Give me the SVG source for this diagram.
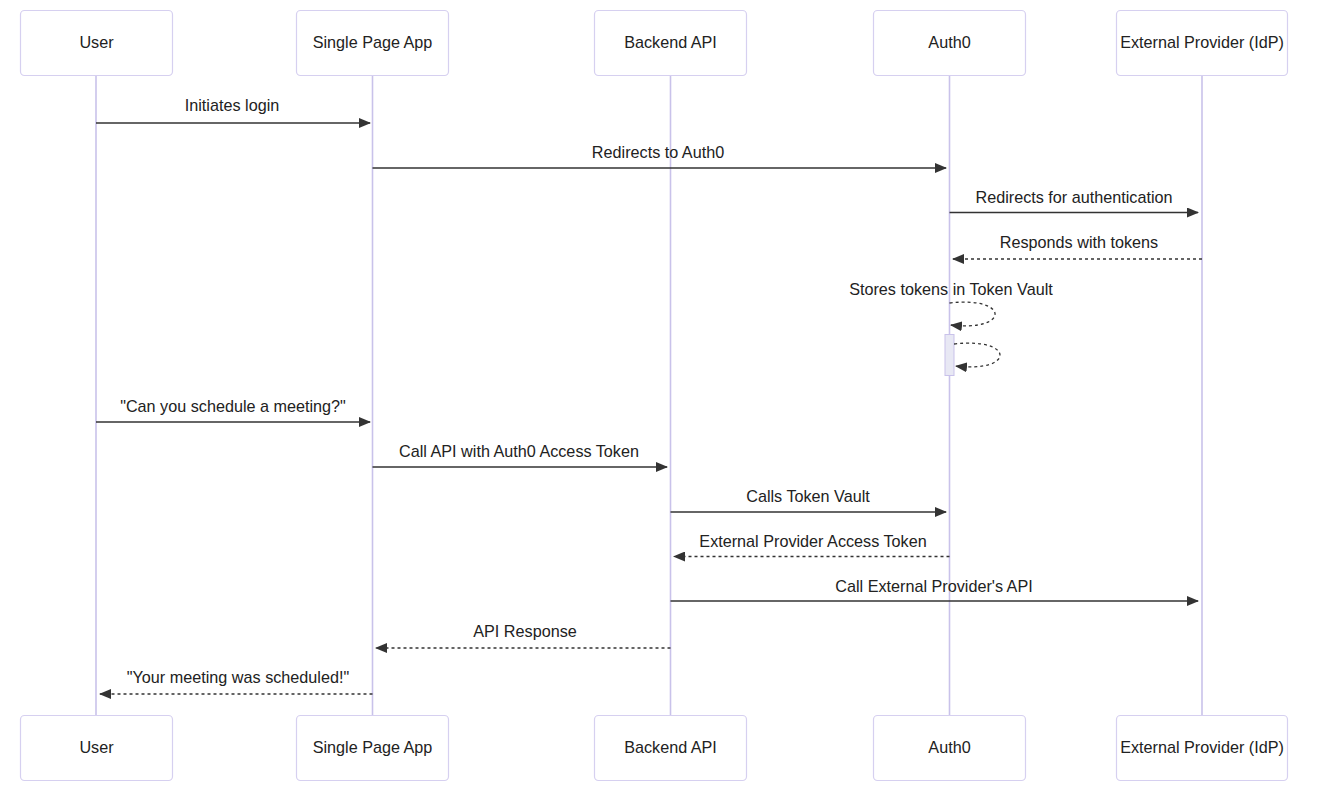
<svg xmlns="http://www.w3.org/2000/svg" width="1322" height="794" viewBox="0 0 1322 794">
<style>
.actor{fill:#ffffff;stroke:#d6d0f0;stroke-width:1.2}
.life{stroke:#c9c2ea;stroke-width:1.6}
.lbl{font-family:"Liberation Sans",Arial,sans-serif;font-size:16.2px;fill:#222;text-anchor:middle}
.msg{stroke:#333;stroke-width:1.3;fill:none}
.dash{stroke-dasharray:3,3}
</style>
<defs>
<marker id="ah" viewBox="0 0 12 10" refX="11" refY="5" markerWidth="12" markerHeight="10" markerUnits="userSpaceOnUse" orient="auto">
<path d="M0,0 L12,5 L0,10 z" fill="#333"/>
</marker>
</defs>
<rect width="1322" height="794" fill="#ffffff"/>
<g id="lifelines">
<line class="life" x1="96" y1="76" x2="96" y2="715"/>
<line class="life" x1="372.5" y1="76" x2="372.5" y2="715"/>
<line class="life" x1="670.5" y1="76" x2="670.5" y2="715"/>
<line class="life" x1="949.5" y1="76" x2="949.5" y2="715"/>
<line class="life" x1="1202" y1="76" x2="1202" y2="715"/>
</g>
<g id="user-top"><rect class="actor" x="20.5" y="10.5" width="152" height="65" rx="4"/><text class="lbl" x="96.5" y="48">User</text></g>
<g id="spa-top"><rect class="actor" x="296.5" y="10.5" width="152" height="65" rx="4"/><text class="lbl" x="372.5" y="48">Single Page App</text></g>
<g id="api-top"><rect class="actor" x="594.5" y="10.5" width="152" height="65" rx="4"/><text class="lbl" x="670.5" y="48">Backend API</text></g>
<g id="auth0-top"><rect class="actor" x="873.5" y="10.5" width="152" height="65" rx="4"/><text class="lbl" x="949.5" y="48">Auth0</text></g>
<g id="idp-top"><rect class="actor" x="1116.5" y="10.5" width="171" height="65" rx="4"/><text class="lbl" x="1202" y="48">External Provider (IdP)</text></g>
<g id="user-bottom"><rect class="actor" x="20.5" y="715.5" width="152" height="65" rx="4"/><text class="lbl" x="96.5" y="753">User</text></g>
<g id="spa-bottom"><rect class="actor" x="296.5" y="715.5" width="152" height="65" rx="4"/><text class="lbl" x="372.5" y="753">Single Page App</text></g>
<g id="api-bottom"><rect class="actor" x="594.5" y="715.5" width="152" height="65" rx="4"/><text class="lbl" x="670.5" y="753">Backend API</text></g>
<g id="auth0-bottom"><rect class="actor" x="873.5" y="715.5" width="152" height="65" rx="4"/><text class="lbl" x="949.5" y="753">Auth0</text></g>
<g id="idp-bottom"><rect class="actor" x="1116.5" y="715.5" width="171" height="65" rx="4"/><text class="lbl" x="1202" y="753">External Provider (IdP)</text></g>
<g id="activation"><rect x="945" y="334.5" width="9" height="41" fill="#e8e8f4" stroke="#c9c2ea" stroke-width="1"/></g>
<g id="connectors">
<line class="msg" x1="96" y1="123" x2="370" y2="123" marker-end="url(#ah)"/>
<line class="msg" x1="372.5" y1="168" x2="946" y2="168" marker-end="url(#ah)"/>
<line class="msg" x1="949.5" y1="212.5" x2="1198" y2="212.5" marker-end="url(#ah)"/>
<line class="msg dash" x1="1202" y1="259" x2="953" y2="259" marker-end="url(#ah)"/>
<path class="msg dash" d="M949.5,303 C1010,296 1010,332 951,325" marker-end="url(#ah)"/>
<path class="msg dash" d="M954,344 C1015,337 1015,373 956,366" marker-end="url(#ah)"/>
<line class="msg" x1="96" y1="422" x2="370" y2="422" marker-end="url(#ah)"/>
<line class="msg" x1="372.5" y1="467" x2="667" y2="467" marker-end="url(#ah)"/>
<line class="msg" x1="670.5" y1="512" x2="946" y2="512" marker-end="url(#ah)"/>
<line class="msg dash" x1="949.5" y1="556.5" x2="674" y2="556.5" marker-end="url(#ah)"/>
<line class="msg" x1="670.5" y1="601" x2="1198" y2="601" marker-end="url(#ah)"/>
<line class="msg dash" x1="670.5" y1="648" x2="376" y2="648" marker-end="url(#ah)"/>
<line class="msg dash" x1="372.5" y1="694" x2="100" y2="694" marker-end="url(#ah)"/>
</g>
<g id="labels">
<text class="lbl" x="232" y="111">Initiates login</text>
<text class="lbl" x="658" y="158">Redirects to Auth0</text>
<text class="lbl" x="1074" y="203">Redirects for authentication</text>
<text class="lbl" x="1079" y="248">Responds with tokens</text>
<text class="lbl" x="951" y="295">Stores tokens in Token Vault</text>
<text class="lbl" x="233" y="412">"Can you schedule a meeting?"</text>
<text class="lbl" x="519" y="457">Call API with Auth0 Access Token</text>
<text class="lbl" x="808" y="502">Calls Token Vault</text>
<text class="lbl" x="813" y="547">External Provider Access Token</text>
<text class="lbl" x="934" y="592">Call External Provider's API</text>
<text class="lbl" x="525" y="637">API Response</text>
<text class="lbl" x="238" y="683">"Your meeting was scheduled!"</text>
</g>
</svg>
